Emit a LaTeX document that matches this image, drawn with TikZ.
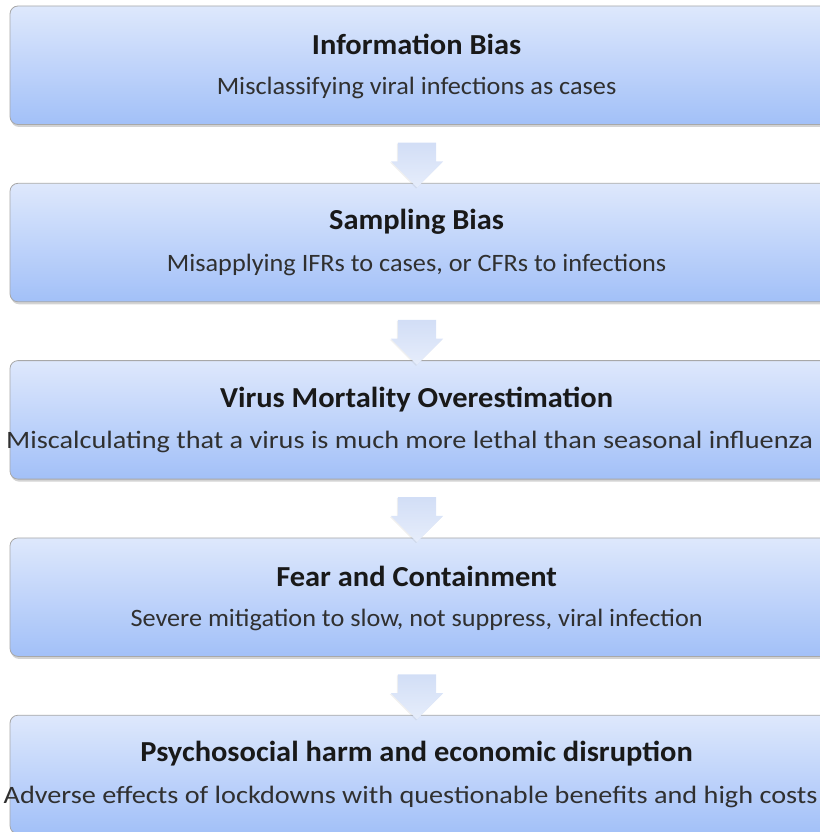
\documentclass[tikz,border=0pt]{standalone}
\usepackage{fontspec}
\setmainfont{Carlito}[FakeStretch=1.05]
\newfontfamily\widefont{Carlito}[FakeStretch=1.13]
\usetikzlibrary{positioning,calc,shapes.arrows,shadows}
\definecolor{boxtop}{HTML}{DEE8FC}
\definecolor{boxbot}{HTML}{A2C0F8}
\definecolor{boxline}{HTML}{A8A8A8}
\definecolor{arrtop}{HTML}{D2DEF6}
\definecolor{arrbot}{HTML}{E6EDFB}
\definecolor{subtext}{HTML}{303030}

\begin{document}
\begin{tikzpicture}[
    x=1pt, y=1pt,
    node distance=58pt,
    stage/.style={draw=boxline, line width=0.8pt, rounded corners=8pt,
                  minimum width=840pt, minimum height=118.5pt,
                  top color=boxtop, bottom color=boxbot,
                  drop shadow={shadow xshift=1pt, shadow yshift=-2.5pt, opacity=0.35}},
    ttl/.style={font=\fontsize{29}{32}\selectfont\bfseries, text=black!90},
    dsc/.style={font=\fontsize{25}{28}\selectfont, text=subtext},
    wide/.style={font=\fontsize{25}{28}\widefont, text=subtext},
    flow/.style={single arrow, shape border rotate=270,
                 inner xsep=19pt, inner ysep=0pt,
                 minimum height=45pt, minimum width=52pt,
                 single arrow head extend=7pt, single arrow head indent=0pt,
                 top color=arrtop, bottom color=arrbot,
                 drop shadow={shadow xshift=-1pt, shadow yshift=-1pt, opacity=0.12}},
  ]
    \useasboundingbox (0,0) rectangle (819,-832);

    % the five stages, top to bottom
    \node[stage] (s1) at (430,-65.25) {};
    \node[stage, below=of s1] (s2) {};
    \node[stage, below=of s2] (s3) {};
    \node[stage, below=of s3] (s4) {};
    \node[stage, below=of s4] (s5) {};

    % titles and descriptions, centred on x = 417
    \node[ttl]  (t1) at ($(s1.north west)+(407,-39)$) {Information Bias};
    \node[dsc]  (d1) at ($(s1.north west)+(407,-82)$) {Misclassifying viral infections as cases};
    \node[ttl]  (t2) at ($(s2.north west)+(407,-39)$) {Sampling Bias};
    \node[dsc]  (d2) at ($(s2.north west)+(407,-82)$) {Misapplying IFRs to cases, or CFRs to infections};
    \node[ttl]  (t3) at ($(s3.north west)+(407,-39)$) {Virus Mortality Overestimation};
    \node[wide] (d3) at ($(s3.north west)+(400,-82)$) {Miscalculating that a virus is much more lethal than seasonal influenza};
    \node[ttl]  (t4) at ($(s4.north west)+(407,-39)$) {Fear and Containment};
    \node[dsc]  (d4) at ($(s4.north west)+(407,-82)$) {Severe mitigation to slow, not suppress, viral infection};
    \node[ttl]  (t5) at ($(s5.north west)+(407,-39)$) {Psychosocial harm and economic disruption};
    \node[wide] (d5) at ($(s5.north west)+(401,-82)$) {Adverse effects of lockdowns with questionable benefits and high costs};

    % block arrows in the gaps
    \node[flow] (a1) at ($(s1.south)!0.5!(s2.north)+(-13,-1.5)$) {};
    \node[flow] (a2) at ($(s2.south)!0.5!(s3.north)+(-13,-1.5)$) {};
    \node[flow] (a3) at ($(s3.south)!0.5!(s4.north)+(-13,-1.5)$) {};
    \node[flow] (a4) at ($(s4.south)!0.5!(s5.north)+(-13,-1.5)$) {};
\end{tikzpicture}
\end{document}
